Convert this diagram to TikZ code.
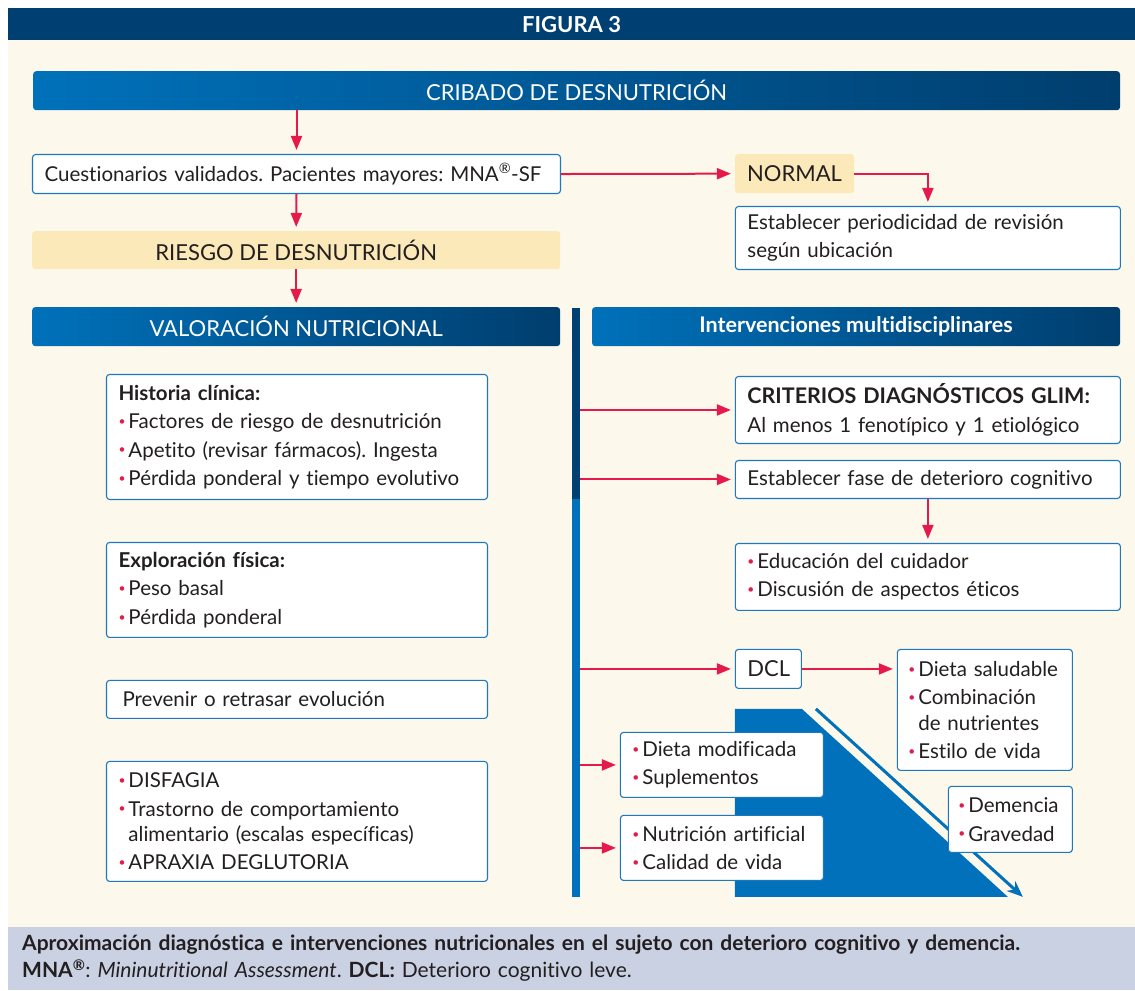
\documentclass[tikz,border=0pt]{standalone}
\usepackage{fontspec}
\setmainfont{Lato}[Ligatures=NoCommon]
\usetikzlibrary{arrows.meta}

\definecolor{cream}{HTML}{FDF8EC}
\definecolor{navy}{HTML}{003F72}
\definecolor{blueA}{HTML}{0071BA}
\definecolor{blueB}{HTML}{003E6E}
\definecolor{edge}{HTML}{1F78BE}
\definecolor{tan}{HTML}{FCE9B9}
\definecolor{pk}{HTML}{E6194B}
\definecolor{ink}{HTML}{231F20}
\definecolor{capband}{HTML}{C9D1E3}

\newcommand{\bul}{\textcolor{pk}{\raisebox{0.3ex}{\fontsize{12}{12}\selectfont\textbullet}}\hspace{3pt}}
\frenchspacing

\begin{document}
\begin{tikzpicture}[x=1pt, y=-1pt,
            bodytext/.style={font=\fontsize{20.5}{28.5}\selectfont, text=ink},
            capsfont/.style={font=\fontsize{22}{26}\selectfont},
            box/.style={bodytext, draw=edge, line width=1.1pt, fill=white, rounded corners=3pt, anchor=north west, align=left, inner xsep=12pt, inner ysep=0pt},
            tanbox/.style={bodytext, capsfont, fill=tan, rounded corners=3pt, anchor=north west, inner sep=0pt},
            headbar/.style={left color=blueA, right color=blueB, rounded corners=3pt, anchor=north west, inner sep=0pt, text=white, font=\fontsize{22}{26}\selectfont},
            vbar/.style={anchor=north west, inner sep=0pt, minimum width=8pt},
            link/.style={draw=pk, line width=2pt, -{Triangle[length=14pt,width=11pt]}, shorten >=4pt},
        ]

        % Background.
        \fill[white] (0,0) rectangle (1135,990);
        \fill[cream] (8,8) rectangle (1135,927);

        % Title and caption.
        \node[fill=navy, anchor=north west, inner sep=0pt, minimum width=1127pt, minimum height=32pt, text=white, font=\bfseries\fontsize{22}{24}\selectfont] (figtitle) at (8,8) {FIGURA 3};
        \node[fill=capband, anchor=north west, inner xsep=14pt, inner ysep=0pt, minimum height=63pt, text width=1099pt, align=left, text=ink, font=\fontsize{21}{27}\selectfont] (caption) at (8,927)
            {{\bfseries Aproximación diagnóstica e intervenciones nutricionales en el sujeto con deterioro cognitivo y demencia.}\\
             {\bfseries MNA\textsuperscript{®}}: \textit{Mininutritional Assessment}. {\bfseries DCL:} Deterioro cognitivo leve.};

        % Trend shape.
        \fill[blueA] (735,709) -- (802,709) -- (1008,897) -- (735,897) -- cycle;
        \coordinate (trendstart) at (816,709);
        \coordinate (trendend)   at (1023,897);
        \draw[blueA, line width=3pt, -{Stealth[length=16pt,width=13pt]}] (trendstart) -- (trendend);

        % Nodes.
        \node[headbar, minimum width=1087pt, minimum height=39pt] (cribado) at (33,71) {CRIBADO DE DESNUTRICIÓN};
        \node[box, text width=504pt, minimum height=39pt] (cuest) at (32,154) {Cuestionarios validados. Pacientes mayores: MNA\textsuperscript{®}-SF};
        \node[tanbox, minimum width=528pt, minimum height=38pt] (riesgo) at (32,231) {RIESGO DE DESNUTRICIÓN};
        \node[headbar, minimum width=528pt, minimum height=39pt] (valor) at (32,307) {VALORACIÓN NUTRICIONAL};
        \node[headbar, minimum width=528pt, minimum height=39pt, font=\bfseries\fontsize{21.5}{24}\selectfont] (interv) at (592,307) {Intervenciones multidisciplinares};

        \node[tanbox, minimum width=119pt, minimum height=39pt] (normal) at (735,154) {NORMAL};
        \node[box, text width=361pt, minimum height=63pt] (estab) at (735,206) {Establecer periodicidad de revisión\\según ubicación};

        \node[vbar, fill=navy,  minimum height=191pt] (vtop) at (572,308) {};
        \node[vbar, fill=blueA, minimum height=398pt] (vbot) at (572,499) {};

        \node[box, text width=357pt, minimum height=125pt] (hist) at (106,374)
            {\textbf{Historia clínica:}\\\bul Factores de riesgo de desnutrición\\\bul Apetito (revisar fármacos). Ingesta\\\bul Pérdida ponderal y tiempo evolutivo};
        \node[box, text width=357pt, minimum height=95pt] (explo) at (106,542)
            {\textbf{Exploración física:}\\\bul Peso basal\\\bul Pérdida ponderal};
        \node[box, text width=357pt, minimum height=38pt] (prev) at (106,680) {\hspace{4pt}Prevenir o retrasar evolución};
        \node[box, text width=357pt, minimum height=120pt] (disf) at (106,761)
            {\bul DISFAGIA\\\bul Trastorno de comportamiento\\[-3pt]\hphantom{\bul}alimentario (escalas específicas)\\\bul APRAXIA DEGLUTORIA};

        \node[box, text width=361pt, minimum height=67pt] (crit) at (735,376)
            {{\fontsize{21.5}{28}\selectfont\textbf{CRITERIOS DIAGNÓSTICOS GLIM:}}\\Al menos 1 fenotípico y 1 etiológico};
        \node[box, text width=361pt, minimum height=38pt] (fase) at (735,460) {Establecer fase de deterioro cognitivo};
        \node[box, text width=361pt, minimum height=67pt] (educ) at (735,543)
            {\bul Educación del cuidador\\\bul Discusión de aspectos éticos};
        \node[box, capsfont, text width=42pt, align=center, minimum height=39pt] (dcl) at (735,649) {DCL};
        \node[box, inner xsep=11pt, text width=153pt, minimum height=121pt] (saludable) at (897,649)
            {\bul Dieta saludable\\\bul Combinación\\[-3pt]\hphantom{\bul}de nutrientes\\\bul Estilo de vida};
        \node[box, text width=179pt, minimum height=65pt] (modif) at (620,732)
            {\bul Dieta modificada\\\bul Suplementos};
        \node[box, text width=179pt, minimum height=65pt] (artif) at (620,815)
            {\bul Nutrición artificial\\\bul Calidad de vida};
        \node[box, inner xsep=10pt, text width=104pt, minimum height=66pt] (demen) at (948,786)
            {\bul Demencia\\\bul Gravedad};

        % Lines.
        \draw[link] (cribado.south -| cuest.north) -- (cuest.north);
        \draw[link] (cuest.south) -- (riesgo.north);
        \draw[link] (riesgo.south) -- (valor.north);
        \draw[link] (cuest.east) -- (normal.west);
        \draw[link] (normal.east) -| (estab.north);
        \draw[link] (vtop.east |- crit.west) -- (crit.west);
        \draw[link] (vtop.east |- fase.west) -- (fase.west);
        \draw[link] (fase.south) -- (educ.north);
        \draw[link] (vbot.east |- dcl.west) -- (dcl.west);
        \draw[link] (dcl.east) -- (dcl.east -| saludable.west);
        \draw[link] (vbot.east |- modif.west) -- (modif.west);
        \draw[link] (vbot.east |- artif.west) -- (artif.west);
    \end{tikzpicture}
\end{document}
